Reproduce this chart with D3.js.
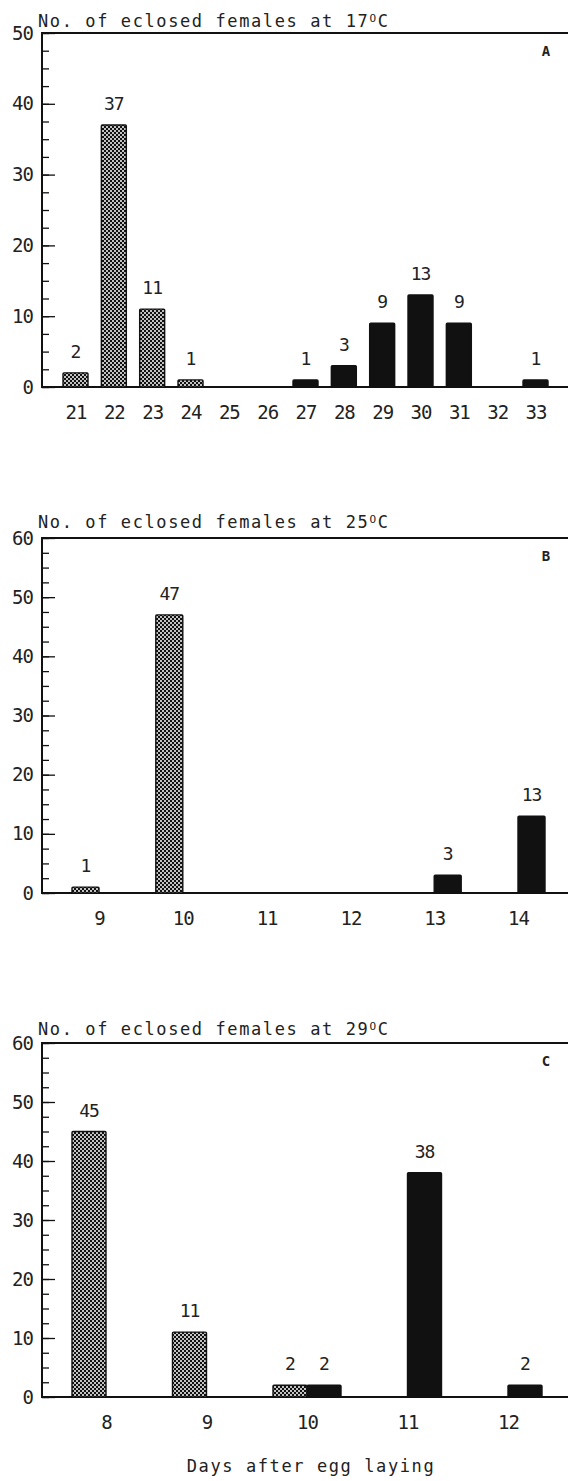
<!DOCTYPE html>
<html>
<head>
<meta charset="utf-8">
<script src="https://cdn.jsdelivr.net/npm/d3@7"></script>
<style>
  body { margin: 0; background: #fff; }
  svg { display: block; }
  text { font-family: "DejaVu Sans Mono", "Liberation Mono", monospace; fill: #222; }
</style>
</head>
<body>
<svg id="chart" width="568" height="1481"></svg>
<script>
// data: number of eclosed females per day after egg laying
// hatched = first group (left bar), solid = second group (right bar)
var daysA    = [21, 22, 23, 24, 25, 26, 27, 28, 29, 30, 31, 32, 33];
var hatchedA = [2, 37, 11, 1, 0, 0, 0, 0, 0, 0, 0, 0, 0];
var solidA   = [0, 0, 0, 0, 0, 0, 1, 3, 9, 13, 9, 0, 1];

var daysB    = [9, 10, 11, 12, 13, 14];
var hatchedB = [1, 47, 0, 0, 0, 0];
var solidB   = [0, 0, 0, 0, 3, 13];

var daysC    = [8, 9, 10, 11, 12];
var hatchedC = [45, 11, 2, 0, 0];
var solidC   = [0, 0, 2, 38, 2];

var temps    = ['17', '25', '29'];
var letters  = ['A', 'B', 'C'];
var yMaxes   = [50, 60, 60];
var xLabel   = 'Days after egg laying';

// layout of the three panels (pixels)
var layout = [
  {top: 33,   zero: 387,  x0: 75.5, x1: 535.5, barW: 25, grouped: false, titleOff: 6},
  {top: 538,  zero: 893,  x0: 99,   x1: 518,   barW: 27, grouped: true,  titleOff: 10},
  {top: 1043, zero: 1397, x0: 106,  x1: 508,   barW: 34, grouped: true,  titleOff: 8}
];
var panels = [
  {days: daysA, hatched: hatchedA, solid: solidA},
  {days: daysB, hatched: hatchedB, solid: solidB},
  {days: daysC, hatched: hatchedC, solid: solidC}
];

var axisX = 42, rightX = 568;
var svg = d3.select('#chart');

// cross hatch fill (black with white dots)
var pat = svg.append('defs').append('pattern')
  .attr('id', 'hatch')
  .attr('patternUnits', 'userSpaceOnUse')
  .attr('width', 4).attr('height', 4);
pat.append('rect').attr('width', 4).attr('height', 4).attr('fill', '#111');
pat.selectAll('circle').data([[1, 1], [3, 3]]).enter().append('circle')
  .attr('cx', function(d){ return d[0]; })
  .attr('cy', function(d){ return d[1]; })
  .attr('r', 1)
  .attr('fill', '#fff');

panels.forEach(function(p, i){
  var L = layout[i];
  var g = svg.append('g');

  var y = d3.scaleLinear().domain([0, yMaxes[i]]).range([L.zero, L.top]);
  var x = d3.scalePoint().domain(p.days).range([L.x0, L.x1]);

  // minor ticks every 2.5
  var minor = d3.range(0, yMaxes[i] + 0.1, 2.5);
  g.append('g')
    .attr('transform', 'translate(' + axisX + ',0)')
    .call(d3.axisLeft(y).tickValues(minor).tickSize(-7).tickFormat(''))
    .call(function(s){ s.select('.domain').remove(); })
    .selectAll('line').attr('stroke', '#111').attr('stroke-width', 1.3);

  // major ticks with labels
  g.append('g')
    .attr('transform', 'translate(' + axisX + ',0)')
    .call(d3.axisLeft(y).tickValues(d3.range(0, yMaxes[i] + 1, 10)).tickSize(-13).tickPadding(9))
    .call(function(s){ s.select('.domain').remove(); })
    .call(function(s){
      s.selectAll('line').attr('stroke', '#111').attr('stroke-width', 1.3);
      s.selectAll('text').attr('font-size', 19).attr('font-family', null)
        .attr('letter-spacing', -1).attr('fill', '#222');
    });

  // x tick labels
  g.append('g')
    .attr('transform', 'translate(0,' + L.zero + ')')
    .call(d3.axisBottom(x).tickSize(0).tickPadding(19))
    .call(function(s){
      s.select('.domain').remove();
      s.selectAll('text').attr('font-size', 19).attr('font-family', null)
        .attr('letter-spacing', -1).attr('fill', '#222');
    });

  // frame: y axis, baseline, top line
  g.append('path')
    .attr('d', 'M' + rightX + ',' + L.top + 'H' + axisX + 'V' + L.zero + 'H' + rightX)
    .attr('fill', 'none').attr('stroke', '#111').attr('stroke-width', 2);

  // bars
  var bars = [];
  p.days.forEach(function(d, k){
    var both = [{v: p.hatched[k], fill: 'url(#hatch)', side: -1},
                {v: p.solid[k], fill: '#111', side: 1}];
    both.forEach(function(b){
      if (b.v <= 0) return;
      var bx;
      if (L.grouped) bx = b.side < 0 ? x(d) - L.barW : x(d);
      else bx = x(d) - L.barW / 2;
      bars.push({day: d, v: b.v, fill: b.fill, x: bx});
    });
  });

  g.selectAll('rect.bar').data(bars).enter().append('rect')
    .attr('class', 'bar')
    .attr('x', function(d){ return d.x; })
    .attr('y', function(d){ return y(d.v); })
    .attr('width', L.barW)
    .attr('height', function(d){ return y(0) - y(d.v); })
    .attr('fill', function(d){ return d.fill; })
    .attr('stroke', '#111').attr('stroke-width', 1.4)
    .attr('rx', 1);

  g.selectAll('text.val').data(bars).enter().append('text')
    .attr('class', 'val')
    .attr('x', function(d){ return d.x + L.barW / 2; })
    .attr('y', function(d){ return y(d.v) - 15; })
    .attr('text-anchor', 'middle')
    .attr('font-size', 18)
    .attr('letter-spacing', -1)
    .text(function(d){ return d.v; });

  // title
  var t = g.append('text')
    .attr('x', 38).attr('y', L.top - L.titleOff)
    .attr('font-size', 17)
    .attr('letter-spacing', 1.6)
    .text('No. of eclosed females at ' + temps[i]);
  t.append('tspan').attr('font-size', 11).attr('dy', -5).text('O');
  t.append('tspan').attr('dy', 5).text('C');

  // panel letter
  g.append('text')
    .attr('x', 546).attr('y', L.top + 23)
    .attr('text-anchor', 'middle')
    .attr('font-family', 'Liberation Sans, Arial, sans-serif')
    .attr('font-weight', 'bold')
    .attr('font-size', 14)
    .attr('fill', '#111')
    .text(letters[i]);
});

svg.append('text')
  .attr('x', 311).attr('y', 1472)
  .attr('text-anchor', 'middle')
  .attr('font-size', 17)
  .attr('letter-spacing', 1.6)
  .text(xLabel);
</script>
</body>
</html>
